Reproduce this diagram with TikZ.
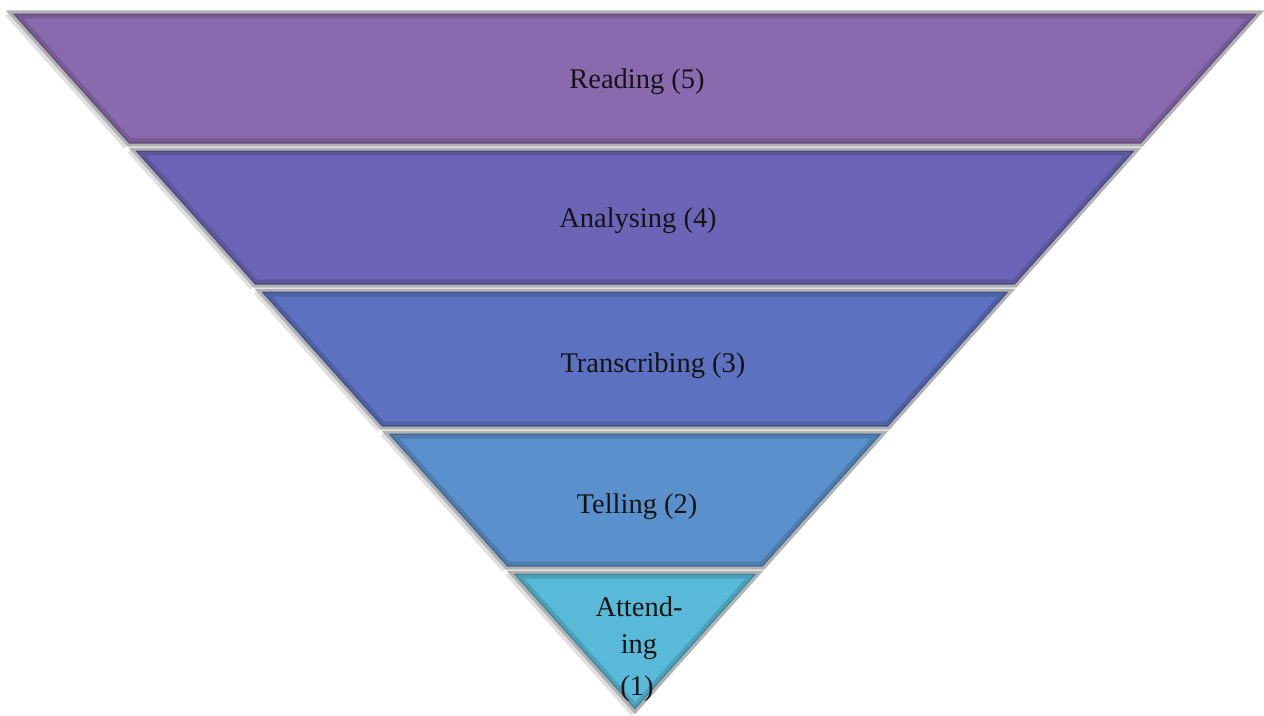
\documentclass[tikz,border=0pt]{standalone}
\usepackage{fontspec}
\setmainfont{Liberation Serif}
\definecolor{cA}{HTML}{8A6AAE}
\definecolor{cB}{HTML}{6C65B7}
\definecolor{cC}{HTML}{5C71C0}
\definecolor{cD}{HTML}{5A91CC}
\definecolor{cE}{HTML}{58BAD8}
\tikzset{
  lbl/.style={font=\fontsize{8.1}{10.8}\selectfont, text=black!92, anchor=base, inner sep=0pt},
  rimout/.style={draw=gray!60, line width=0.03cm, line join=miter},
  shade1/.style={line width=0.13cm, opacity=0.3},
  shade2/.style={line width=0.06cm, opacity=0.5},
  bandshadow/.style={draw=black, line width=0.05cm, opacity=0.12}
}
\begin{document}
\begin{tikzpicture}[x=0.01cm,y=-0.01cm]
\useasboundingbox (0,0) rectangle (1264,715);
\fill[white] (0,0) rectangle (1264,715);
\foreach \c/\ya/\yb in {cA/12/145, cB/149/286, cC/290/428, cD/432/568, cE/572/712} {
  \pgfmathsetmacro\xla{635-0.894*(712-\ya)}
  \pgfmathsetmacro\xra{635+0.894*(712-\ya)}
  \pgfmathsetmacro\xlb{635-0.894*(712-\yb)}
  \pgfmathsetmacro\xrb{635+0.894*(712-\yb)}
  % soft outer shadow
  \path[bandshadow] (\xla-2,\ya+2) -- (\xlb-2,\yb+2);
  \begin{scope}
    \clip (\xla,\ya) -- (\xra,\ya) -- (\xrb,\yb) -- (\xlb,\yb) -- cycle;
    \fill[\c] (\xla,\ya) -- (\xra,\ya) -- (\xrb,\yb) -- (\xlb,\yb) -- cycle;
    \draw[shade1, \c!55!black] (\xla,\ya) -- (\xra,\ya) -- (\xrb,\yb) -- (\xlb,\yb) -- cycle;
    \draw[shade2, \c!60!black] (\xla,\ya) -- (\xra,\ya) -- (\xrb,\yb) -- (\xlb,\yb) -- cycle;
    \draw[white!85!\c, line width=0.025cm] (\xra,\ya) -- (\xrb,\yb);
  \end{scope}
  \path[rimout] (\xla,\ya) -- (\xra,\ya) -- (\xrb,\yb) -- (\xlb,\yb) -- cycle;
}
\node[lbl] (reading) at (637,88) {Reading (5)};
\node[lbl] (analysing) at (638,227) {Analysing (4)};
\node[lbl] (transcribing) at (653,372) {Transcribing (3)};
\node[lbl] (telling) at (637,513) {Telling (2)};
\node[lbl] (att1) at (639,616) {Attend-};
\node[lbl] (att2) at (639,653) {ing};
\node[lbl] (att3) at (637,695) {(1)};
\end{tikzpicture}
\end{document}
